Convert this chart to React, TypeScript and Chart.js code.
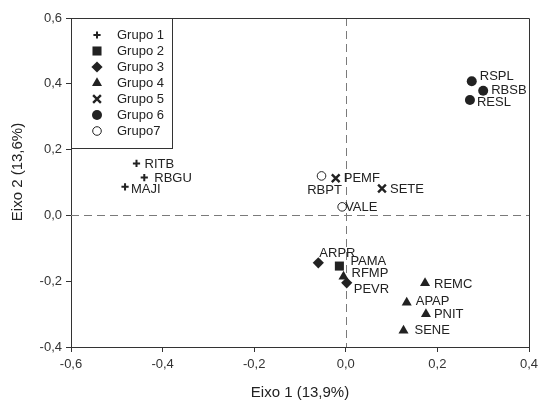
import React, { useEffect, useRef } from 'react';
import { Chart, registerables } from 'chart.js';
import { drawPoint } from 'chart.js/helpers';

Chart.register(...registerables);

// ---- data ----
const siteNames = ['RITB', 'RBGU', 'MAJI', 'PAMA', 'ARPR', 'PEVR', 'RFMP', 'REMC', 'APAP', 'PNIT', 'SENE', 'PEMF', 'SETE', 'RSPL', 'RBSB', 'RESL', 'RBPT', 'VALE'];
const eixo1 = [-0.457, -0.44, -0.482, -0.014, -0.06, 0.002, -0.005, 0.173, 0.133, 0.175, 0.126, -0.022, 0.079, 0.275, 0.3, 0.271, -0.053, -0.008];
const eixo2 = [0.158, 0.115, 0.087, -0.154, -0.144, -0.205, -0.186, -0.206, -0.265, -0.3, -0.35, 0.113, 0.082, 0.408, 0.379, 0.351, 0.12, 0.026];
const siteGroup = [1, 1, 1, 2, 3, 3, 4, 4, 4, 4, 4, 5, 5, 6, 6, 6, 7, 7];
const groupNames = ['Grupo 1', 'Grupo 2', 'Grupo 3', 'Grupo 4', 'Grupo 5', 'Grupo 6', 'Grupo7'];
const xTicks = [-0.6, -0.4, -0.2, 0.0, 0.2, 0.4];
const yTicks = [-0.4, -0.2, 0.0, 0.2, 0.4, 0.6];
const xTitle = 'Eixo 1 (13,9%)';
const yTitle = 'Eixo 2 (13,6%)';

// ---- style ----
const FONT = '"Liberation Sans", Arial, sans-serif';
const INK = '#222';
const AXIS = '#333';
const groupStyles = [
  { pointStyle: 'cross', radius: 3.6, borderWidth: 2, fill: INK },
  { pointStyle: 'rect', radius: 6.4, borderWidth: 0, fill: INK },
  { pointStyle: 'rectRot', radius: 5.6, borderWidth: 0, fill: INK },
  { pointStyle: 'triangle', radius: 5.8, borderWidth: 0, fill: INK },
  { pointStyle: 'crossRot', radius: 5.5, borderWidth: 2.4, fill: INK },
  { pointStyle: 'circle', radius: 5, borderWidth: 0, fill: INK },
  { pointStyle: 'circle', radius: 4.3, borderWidth: 1, fill: '#fff' },
];
// label placement relative to the marker [dx, dy, align]
const labelPlacement: [number, number, CanvasTextAlign][] = [
  [8, 1, 'left'], [10, 1, 'left'], [6, 3, 'left'], [11, -5, 'left'], [1, -9, 'left'], [7, 7, 'left'],
  [8, -3, 'left'], [9, 1, 'left'], [9, -1, 'left'], [8, 0, 'left'], [11, 0, 'left'], [8, 0, 'left'],
  [8, 1, 'left'], [8, -5, 'left'], [8, 0, 'left'], [7, 3, 'left'], [3, 15, 'center'], [3, 1, 'left'],
];

const fmt = (v: number) => (Math.round(v * 10) / 10).toFixed(1).replace('.', ',');

export default function App() {
  const ref = useRef<HTMLCanvasElement | null>(null);

  useEffect(() => {
    document.body.style.margin = '0';
    const canvas = ref.current;
    if (!canvas) return;

    const datasets = groupNames.map((name, gi) => {
      const st = groupStyles[gi];
      const data = siteNames
        .map((_, i) => i)
        .filter((i) => siteGroup[i] === gi + 1)
        .map((i) => ({ x: eixo1[i], y: eixo2[i] }));
      return {
        label: name,
        data,
        pointStyle: st.pointStyle,
        pointRadius: st.radius,
        pointBorderWidth: st.borderWidth,
        pointBackgroundColor: st.fill,
        pointBorderColor: INK,
        showLine: false,
      };
    });

    const decor = {
      id: 'decor',
      beforeDatasetsDraw(chart: any) {
        const { ctx, chartArea: a, scales } = chart;
        const x0 = scales.x.getPixelForValue(0);
        const y0 = scales.y.getPixelForValue(0);
        ctx.save();
        ctx.strokeStyle = '#7a7a7a';
        ctx.lineWidth = 1;
        ctx.setLineDash([8, 5]);
        ctx.beginPath();
        ctx.moveTo(Math.round(x0) + 0.5, a.top);
        ctx.lineTo(Math.round(x0) + 0.5, a.bottom);
        ctx.moveTo(a.left, Math.round(y0) + 0.5);
        ctx.lineTo(a.right, Math.round(y0) + 0.5);
        ctx.stroke();
        ctx.restore();
      },
      afterDatasetsDraw(chart: any) {
        const { ctx, chartArea: a, scales } = chart;
        ctx.save();
        // frame top/right
        ctx.strokeStyle = AXIS;
        ctx.lineWidth = 1;
        ctx.beginPath();
        ctx.moveTo(a.left, Math.round(a.top) + 0.5);
        ctx.lineTo(Math.round(a.right) + 0.5, Math.round(a.top) + 0.5);
        ctx.lineTo(Math.round(a.right) + 0.5, a.bottom);
        ctx.stroke();

        // point labels
        ctx.font = `13px ${FONT}`;
        ctx.fillStyle = INK;
        ctx.textBaseline = 'middle';
        siteNames.forEach((n, i) => {
          const px = scales.x.getPixelForValue(eixo1[i]);
          const py = scales.y.getPixelForValue(eixo2[i]);
          const [dx, dy, al] = labelPlacement[i];
          ctx.textAlign = al;
          ctx.fillText(n, px + dx, py + dy);
        });

        // legend box
        const lx = Math.round(a.left) + 0.5;
        const ly = Math.round(a.top) + 0.5;
        ctx.fillStyle = '#fff';
        ctx.fillRect(lx, ly, 101, 130);
        ctx.strokeStyle = AXIS;
        ctx.strokeRect(lx, ly, 101, 130);
        groupNames.forEach((name, gi) => {
          const st = groupStyles[gi];
          const cy = a.top + 17 + gi * 16;
          ctx.fillStyle = st.fill;
          ctx.strokeStyle = INK;
          ctx.lineWidth = st.borderWidth;
          drawPoint(ctx, { pointStyle: st.pointStyle as any, radius: st.radius, rotation: 0, borderWidth: st.borderWidth }, a.left + 26, cy);
          ctx.fillStyle = INK;
          ctx.textAlign = 'left';
          ctx.textBaseline = 'middle';
          ctx.font = `13px ${FONT}`;
          ctx.fillText(name, a.left + 46, cy);
        });

        // axis titles
        ctx.fillStyle = INK;
        ctx.font = `15px ${FONT}`;
        ctx.textAlign = 'center';
        ctx.textBaseline = 'middle';
        ctx.fillText(xTitle, (a.left + a.right) / 2, 393);
        ctx.translate(18, 172);
        ctx.rotate(-Math.PI / 2);
        ctx.fillText(yTitle, 0, 0);
        ctx.restore();
      },
    };

    const tickFont = { family: FONT, size: 13 };
    const chart = new Chart(canvas, {
      type: 'scatter',
      data: { datasets: datasets as any },
      options: {
        responsive: false,
        animation: false,
        layout: { padding: { top: 18, right: 9, left: 0, bottom: 0 } },
        plugins: { legend: { display: false }, tooltip: { enabled: false } },
        scales: {
          x: {
            type: 'linear',
            min: -0.6,
            max: 0.4,
            afterBuildTicks: (s: any) => { s.ticks = xTicks.map((v) => ({ value: v })); },
            ticks: { callback: (v: any) => fmt(Number(v)), font: tickFont, color: AXIS, padding: 5, maxRotation: 0, autoSkip: false },
            grid: { drawOnChartArea: false, drawTicks: true, tickLength: 5, color: AXIS },
            border: { color: AXIS, width: 1 },
            afterFit: (s: any) => { s.height = 53; s.paddingLeft = 0; s.paddingRight = 0; },
          },
          y: {
            type: 'linear',
            min: -0.4,
            max: 0.6,
            afterBuildTicks: (s: any) => { s.ticks = yTicks.map((v) => ({ value: v })); },
            ticks: { callback: (v: any) => fmt(Number(v)), font: tickFont, color: AXIS, padding: 4, autoSkip: false },
            grid: { drawOnChartArea: false, drawTicks: true, tickLength: 5, color: AXIS },
            border: { color: AXIS, width: 1 },
            afterFit: (s: any) => { s.width = 71; s.paddingTop = 0; s.paddingBottom = 0; },
          },
        },
      },
      plugins: [decor],
    });
    return () => chart.destroy();
  }, []);

  return (
    <div style={{ width: 538, height: 400, background: '#fff' }}>
      <canvas ref={ref} width={538} height={400} />
    </div>
  );
}
